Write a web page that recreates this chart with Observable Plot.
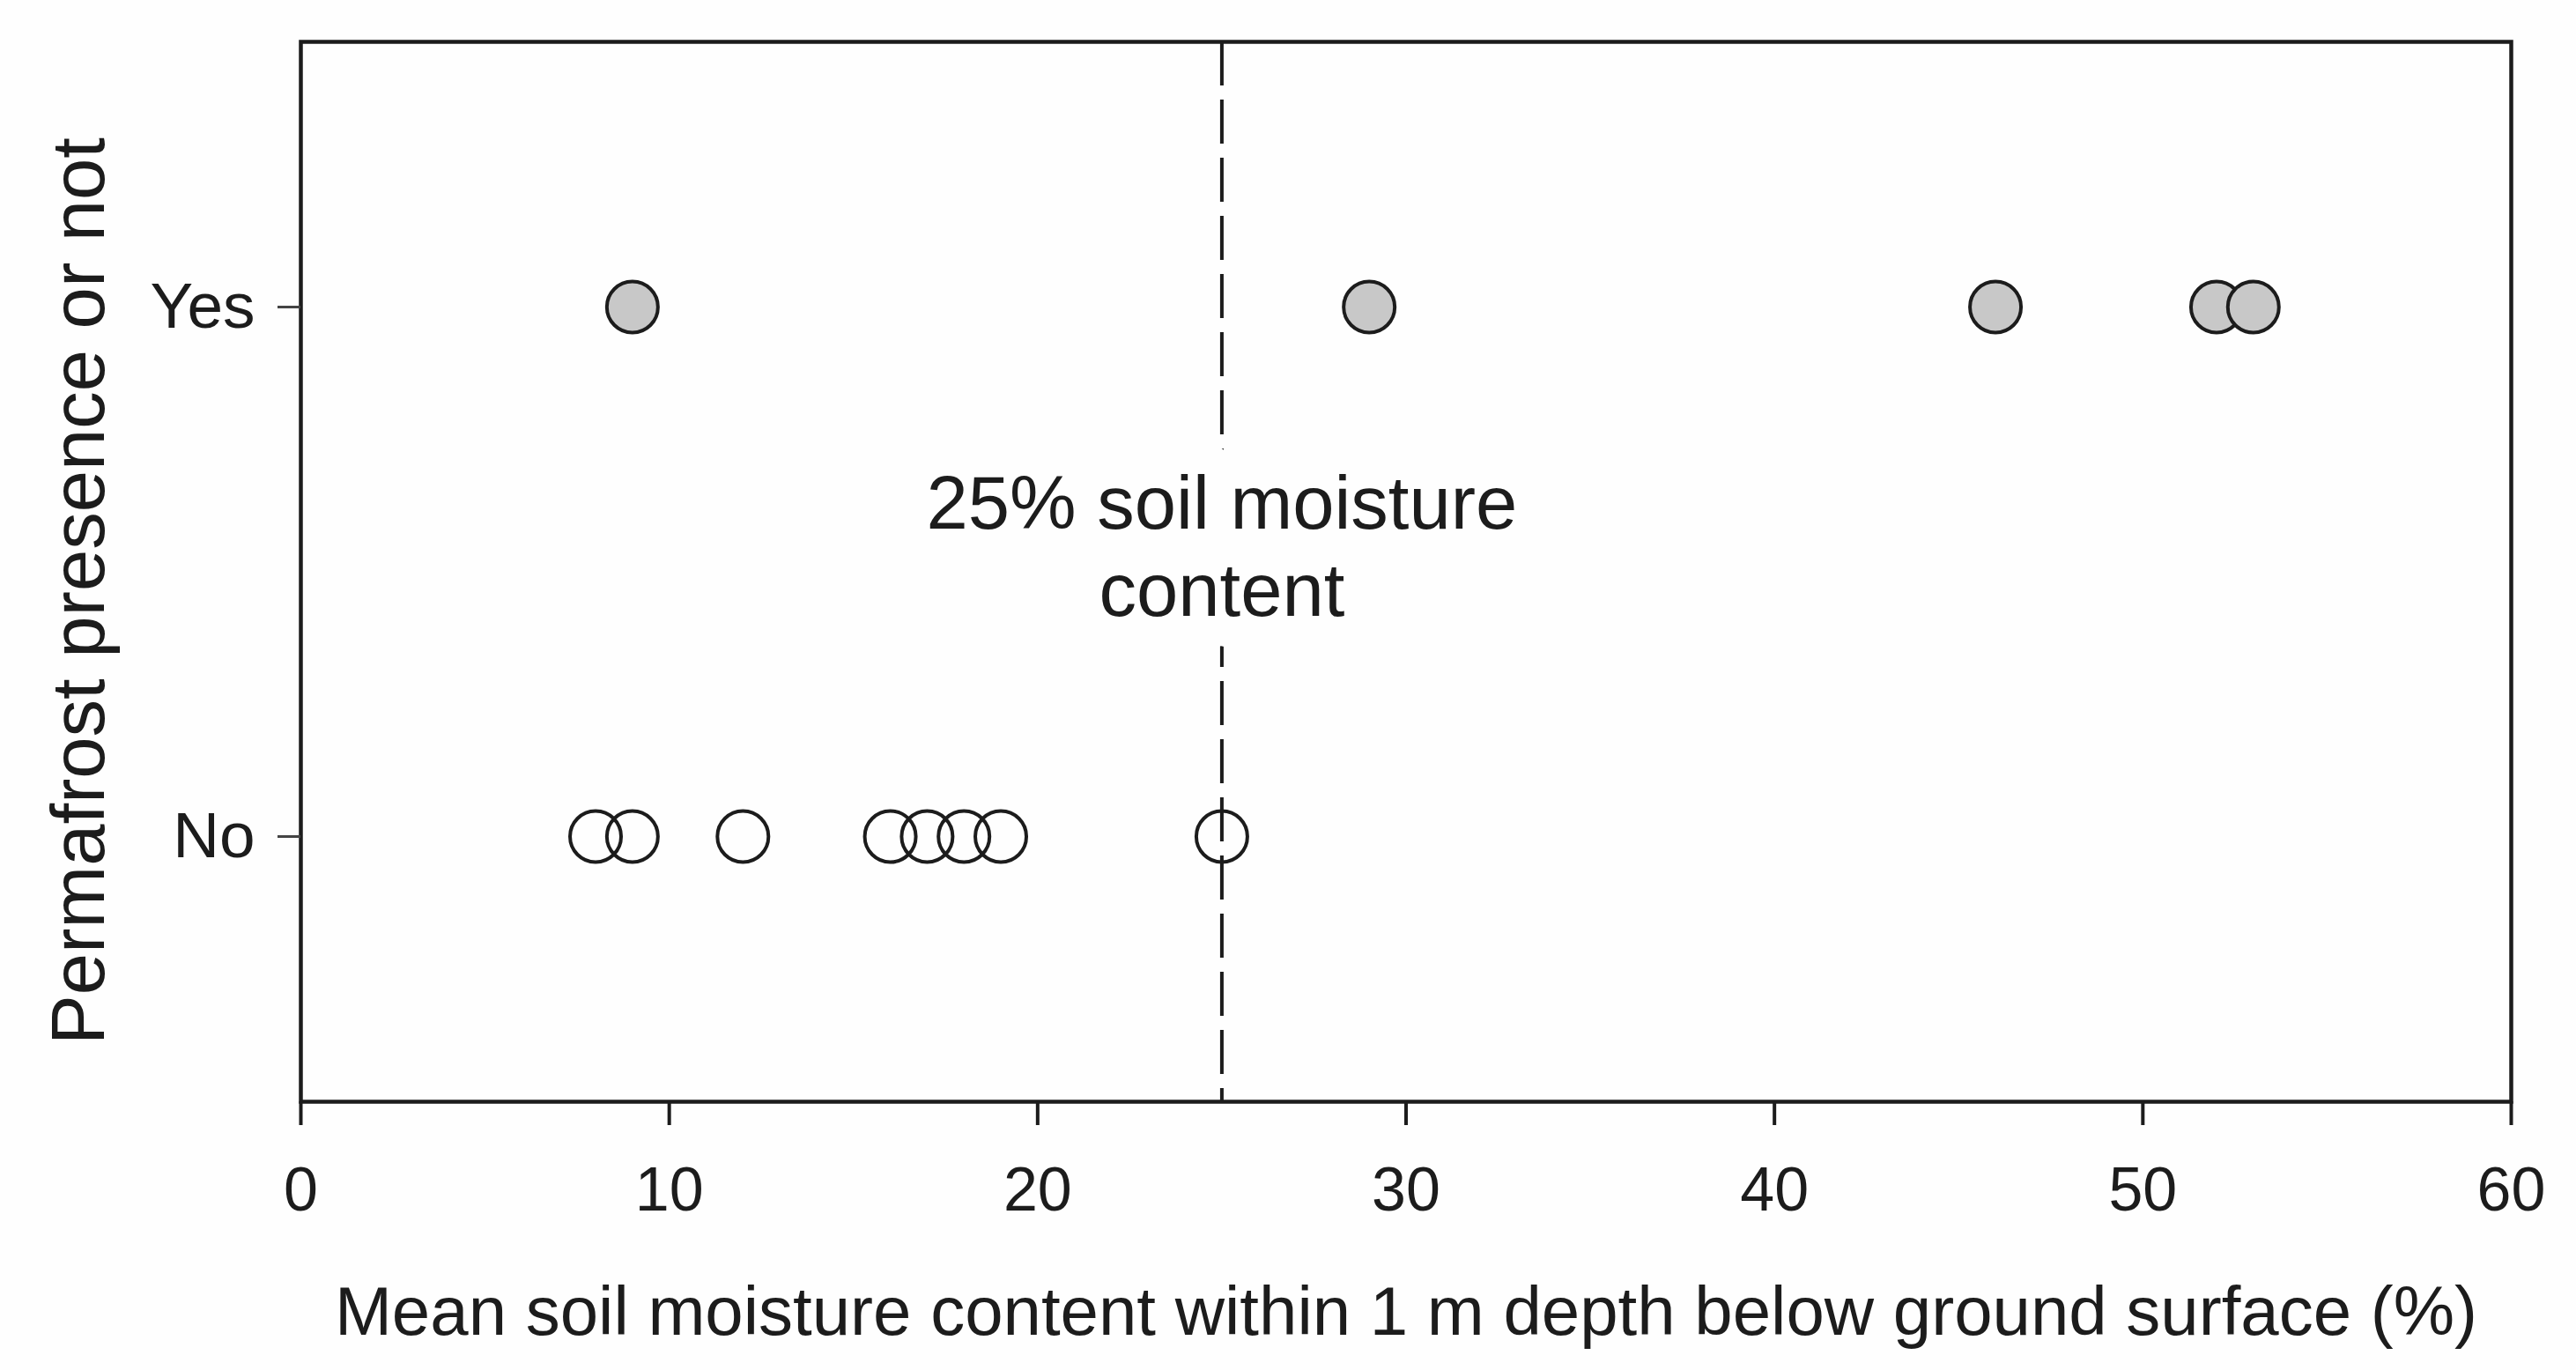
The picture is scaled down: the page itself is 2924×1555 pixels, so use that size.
<!DOCTYPE html>
<html>
<head>
<meta charset="utf-8">
<script src="https://cdn.jsdelivr.net/npm/d3@7"></script>
<script src="https://cdn.jsdelivr.net/npm/@observablehq/plot@0.6"></script>
<style>
  html, body { margin: 0; padding: 0; background: #fefefe; }
  svg { display: block; }
</style>
</head>
<body>
<div id="chart"></div>
<script>
const categories = ["Yes", "No"];
const yesValues = [9, 29, 46, 52, 53];
const noValues = [8, 9, 12, 16, 17, 18, 19, 25];
const xTicks = [0, 10, 20, 30, 40, 50, 60];
const threshold = 25;
const annotation = "25% soil moisture\ncontent";
const xLabel = "Mean soil moisture content within 1 m depth below ground surface (%)";
const yLabel = "Permafrost presence or not";

const yesData = yesValues.map(v => ({x: v, y: "Yes"}));
const noData = noValues.map(v => ({x: v, y: "No"}));

const ink = "#1c1c1c";

const chart = Plot.plot({
  width: 2924,
  height: 1555,
  marginLeft: 341,
  marginRight: 74,
  marginTop: 47,
  marginBottom: 305,
  style: {fontFamily: "'Liberation Sans', Arial, sans-serif", background: "#fefefe", color: ink},
  x: {domain: [0, 60]},
  y: {type: "point", domain: categories, padding: 0.5},
  marks: [
    Plot.ruleX([threshold], {stroke: ink, strokeWidth: 4, strokeDasharray: "50,16"}),
    Plot.text([annotation], {x: () => threshold, frameAnchor: "top", dy: 570, lineAnchor: "middle", textAnchor: "middle", fontSize: 85, lineHeight: 1.17, fill: ink, stroke: "#fefefe", strokeWidth: 70}),
    Plot.dot(noData, {x: "x", y: "y", r: 29, fill: "none", stroke: ink, strokeWidth: 4}),
    Plot.dot(yesData, {x: "x", y: "y", r: 29, fill: "#c8c8c8", stroke: ink, strokeWidth: 4}),
    Plot.frame({stroke: ink, strokeWidth: 4.5}),
    Plot.axisX({ticks: xTicks, tickSize: 27, tickPadding: 47, fontSize: 70, strokeWidth: 4, stroke: ink, label: null}),
    Plot.axisY({tickSize: 26, tickPadding: 26, fontSize: 73, strokeWidth: 3, stroke: "#444", label: null}),
    Plot.text([xLabel], {frameAnchor: "bottom", dy: 240, lineAnchor: "middle", textAnchor: "middle", fontSize: 78, fill: ink}),
    Plot.text([yLabel], {frameAnchor: "left", dx: -251, dy: 22, rotate: -90, lineAnchor: "middle", textAnchor: "middle", fontSize: 85, fill: ink})
  ]
});
document.getElementById("chart").appendChild(chart);
</script>
</body>
</html>
